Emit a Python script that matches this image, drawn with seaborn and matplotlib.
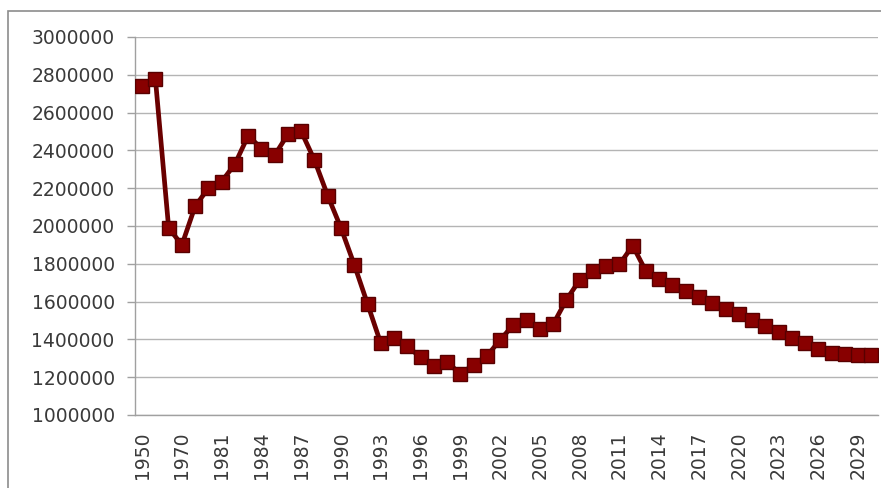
import matplotlib.pyplot as plt
import numpy as np
import pandas as pd
import seaborn as sns
from matplotlib.patches import Rectangle

# Categories (years) and values
years = ["1950", "1960", "1965", "1970", "1975", "1980"] + [str(y) for y in range(1981, 2031)]
births = [
    2740000, 2780000, 1990000, 1900000, 2105000, 2200000,
    2235000, 2328000, 2478000, 2410000, 2375000, 2486000, 2500000, 2348000,
    2160000, 1989000, 1795000, 1588000, 1379000, 1408000, 1364000, 1305000,
    1260000, 1283000, 1215000, 1267000, 1312000, 1397000, 1477000, 1502000,
    1457000, 1480000, 1610000, 1714000, 1762000, 1789000, 1797000, 1896000,
    1760000, 1718000, 1688000, 1656000, 1623000, 1590000, 1560000, 1533000,
    1503000, 1470000, 1440000, 1410000, 1380000, 1350000, 1330000, 1323000,
    1318000, 1318000,
]
y_ticks = [1000000, 1200000, 1400000, 1600000, 1800000, 2000000,
           2200000, 2400000, 2600000, 2800000, 3000000]

df = pd.DataFrame({"year": years, "births": births})

sns.set_style("white")
plt.rcParams["font.family"] = ["DejaVu Sans"]

fig = plt.figure(figsize=(8.81, 4.88), dpi=100)
ax = fig.add_axes([0.1538, 0.1496, 0.8428, 0.7746])

sns.lineplot(data=df, x="year", y="births", ax=ax, color="#6a0000",
             linewidth=3.4, marker="s", markersize=10,
             markerfacecolor="#880000", markeredgecolor="#580000",
             markeredgewidth=1.0, zorder=3)

ax.set_xlim(-0.5, len(years) - 0.5)
ax.set_ylim(1000000, 3000000)
ax.set_yticks(y_ticks)
ax.set_yticklabels([str(v) for v in y_ticks])
ax.yaxis.grid(True, color="#b4b4b4", linewidth=1.0)
ax.set_axisbelow(True)

# label every third category, tick marks between categories
idx = np.arange(0, len(years), 3)
ax.set_xticks(idx)
ax.set_xticklabels([years[i] for i in idx], rotation=90)
ax.set_xticks(np.arange(len(years) + 1) - 0.5, minor=True)
ax.tick_params(axis="x", which="major", length=0, pad=12, labelsize=13.5,
               labelcolor="#3a3a3a")
ax.tick_params(axis="x", which="minor", length=5, width=1, color="#a0a0a0",
               direction="out")
ax.tick_params(axis="y", length=6, width=1, color="#a0a0a0", pad=9,
               labelsize=13.5, labelcolor="#3a3a3a", left=True)

ax.set_xlabel("")
ax.set_ylabel("")
for side in ["top", "right"]:
    ax.spines[side].set_visible(False)
for side in ["left", "bottom"]:
    ax.spines[side].set_color("#a0a0a0")
    ax.spines[side].set_linewidth(1.0)

# outer chart frame (cut at right and bottom as in the image)
fig.add_artist(Rectangle((8 / 881, -0.1), 1.2, 1.1 - 11 / 488,
                         transform=fig.transFigure, fill=False,
                         edgecolor="#8c8c8c", linewidth=1.2))

fig.savefig("out.png", dpi=100)
